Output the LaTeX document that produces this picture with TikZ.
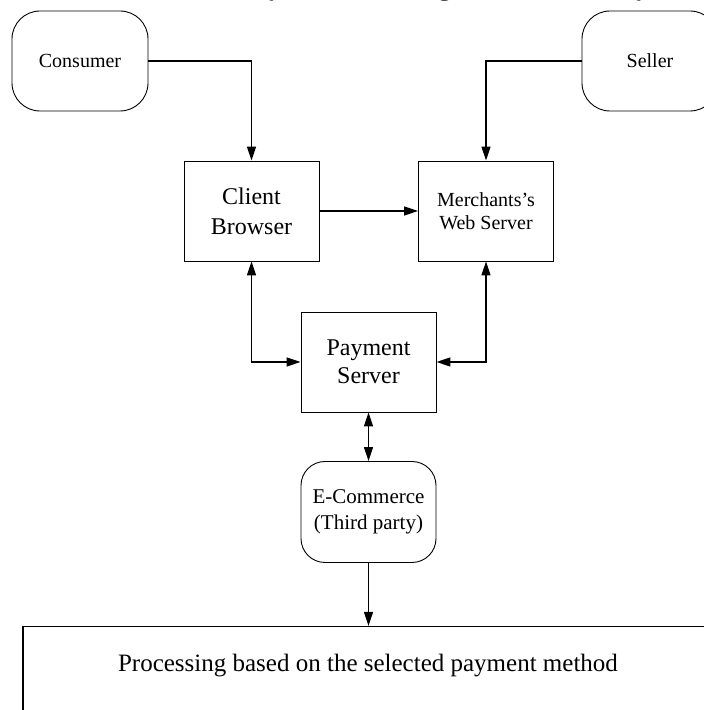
\documentclass[tikz,border=0pt]{standalone}
\usepackage{fontspec}
\setmainfont{Liberation Serif}
\usetikzlibrary{arrows.meta}
\begin{document}
\begin{tikzpicture}[x=1pt,y=1pt,
  every node/.style={inner sep=0pt},
  roundbox/.style={draw, line width=0.9pt, rounded corners=28pt, minimum width=136pt, minimum height=100pt, align=center},
  smallround/.style={draw, line width=0.9pt, rounded corners=24pt, minimum width=135pt, minimum height=101pt, align=center},
  sqbox/.style={draw, line width=0.9pt, minimum width=135pt, minimum height=100pt, align=center},
  conn/.style={line width=1.2pt},
  tip/.style={-{Triangle[length=14pt,width=9pt]}},
  bitip/.style={{Triangle[length=14pt,width=9pt]}-{Triangle[length=14pt,width=9pt]}}
]
\useasboundingbox (0,0) rectangle (704,710);
\clip (0,0) rectangle (704,710);

% cut-off title (only the lowest part of its letters is visible)
\node[anchor=base, font=\bfseries\fontsize{26}{30}\selectfont] (title) at (350,714)
  {Architecture of e-security Protocol in digital transaction system};

\node[roundbox, font=\fontsize{20}{24}\selectfont] (consumer) at (80,649) {Consumer};
\node[roundbox, font=\fontsize{20}{24}\selectfont] (seller) at (650,649) {Seller};

\node[sqbox, font=\fontsize{24}{30}\selectfont] (client) at (251.5,499) {Client\\Browser};
\node[sqbox, font=\fontsize{20}{23}\selectfont] (merchant) at (486,499) {Merchants's\\Web Server};

\node[sqbox, font=\fontsize{24}{28}\selectfont] (payment) at (368.5,348) {Payment\\Server};

\node[smallround, font=\fontsize{21}{26}\selectfont] (ecom) at (368.5,198) {E-Commerce\\(Third party)};

\node[draw, line width=1.2pt, minimum width=690pt, minimum height=120pt, anchor=north] (proc) at (368,84) {};
\node[font=\fontsize{25}{30}\selectfont] (proctext) at (368,44) {Processing based on the selected payment method};

\draw[conn, tip] (consumer.east) -| (client.north);
\draw[conn, tip] (seller.west) -| (merchant.north);
\draw[conn, tip] (client.east) -- (merchant.west);
\draw[conn, bitip] (client.south) |- (payment.west);
\draw[conn, bitip] (merchant.south) |- (payment.east);
\draw[conn, bitip] (payment.south) -- (ecom.north);
\draw[conn, tip] (ecom.south) -- (ecom.south |- proc.north);
\end{tikzpicture}
\end{document}
